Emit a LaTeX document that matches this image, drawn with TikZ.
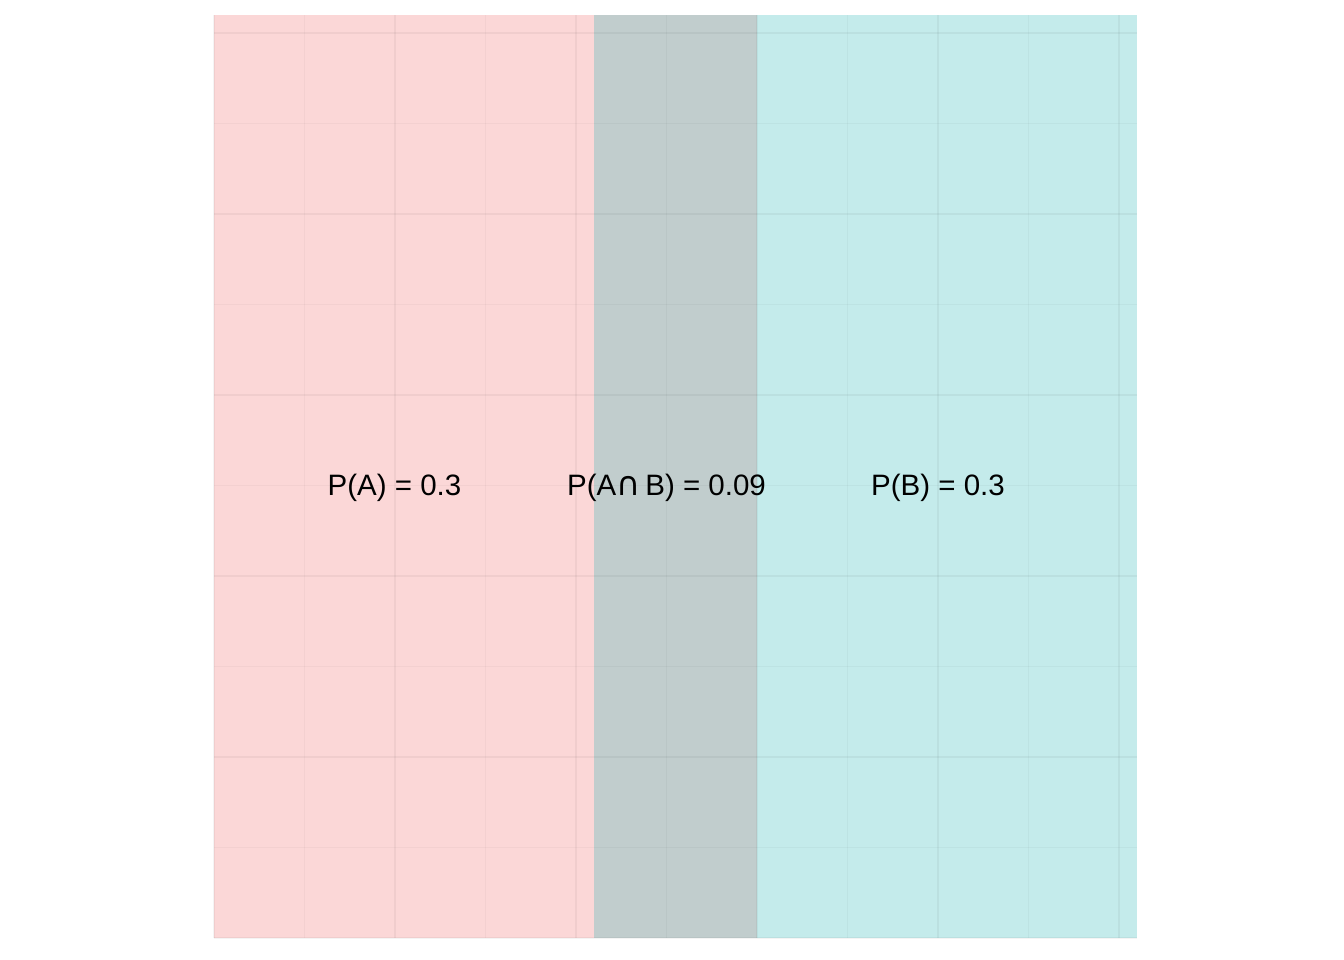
\documentclass[tikz,border=0pt]{standalone}
\usepackage{fontspec}
\setmainfont{Liberation Sans}
\newfontfamily\symbfont{DejaVu Sans}
\usetikzlibrary{positioning}
\definecolor{regionA}{RGB}{251, 215, 215}
\definecolor{regionB}{RGB}{196, 235, 235}
\definecolor{overlapAB}{RGB}{193, 205, 205}

\begin{document}
\begin{tikzpicture}[
    x=1pt, y=-1pt,
    majorgrid/.style={draw=black, draw opacity=0.045, line width=2.6pt},
    minorgrid/.style={draw=black, draw opacity=0.03, line width=1.3pt},
    problabel/.style={font=\fontsize{29.5}{34}\selectfont, inner sep=0pt, anchor=center}
]
    \useasboundingbox (0,0) rectangle (1344,960);
    % the three regions
    \fill[regionA] (214,15) rectangle (594,938);
    \fill[overlapAB] (594,15) rectangle (757,938);
    \fill[regionB] (757,15) rectangle (1137,938);

    % grid over the regions
    \foreach \k in {0,...,4} {
        \draw[minorgrid] (304.5+181*\k,15) -- (304.5+181*\k,938);
        \draw[minorgrid] (214,123.5+181*\k) -- (1137,123.5+181*\k);
    }
    \foreach \k in {0,...,5} {
        \draw[majorgrid] (214+181*\k,15) -- (214+181*\k,938);
        \draw[majorgrid] (214,33+181*\k) -- (1137,33+181*\k);
    }

    \node[problabel] (probA) at (394.5,488) {P(A) = 0.3};
    \node[problabel] (probAB) at (666.5,488) {P(A{\symbfont\fontsize{33}{34}\selectfont ∩}\,B) = 0.09};
    \node[problabel] (probB) at (938,488) {P(B) = 0.3};
\end{tikzpicture}
\end{document}
